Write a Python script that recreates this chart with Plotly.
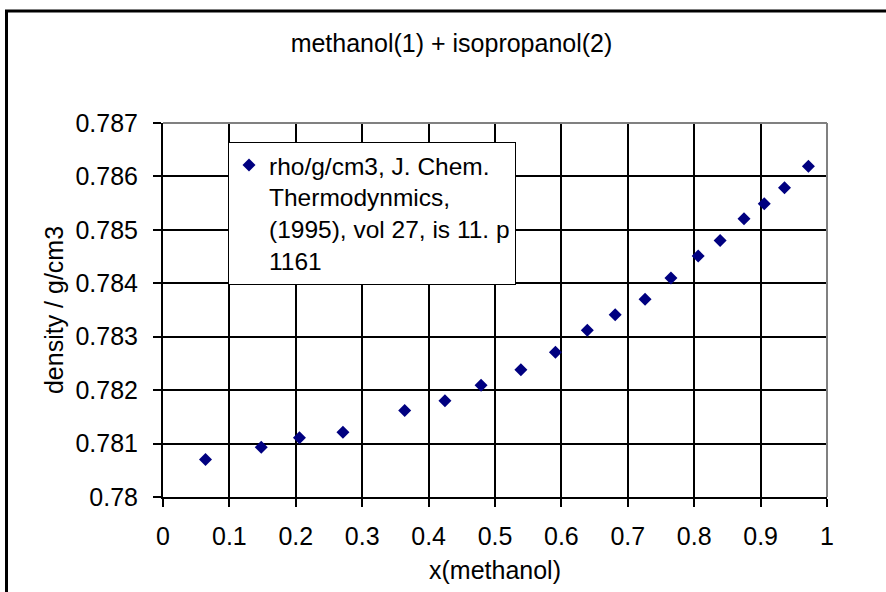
import plotly.graph_objects as go

x_methanol = [0.064, 0.148, 0.2055, 0.271, 0.364, 0.4246, 0.479, 0.539, 0.591, 0.639,
              0.681, 0.726, 0.765, 0.806, 0.839, 0.875, 0.9055, 0.936, 0.972]
density = [0.78070, 0.78093, 0.78111, 0.78121, 0.78162, 0.78180, 0.78209, 0.78238, 0.78271, 0.78312,
           0.78341, 0.78370, 0.78410, 0.78451, 0.78480, 0.78521, 0.78549, 0.78579, 0.78619]

series_name = "rho/g/cm3, J. Chem.<br>Thermodynmics,<br>(1995), vol 27, is 11. p<br>1161"
title_text = "methanol(1) + isopropanol(2)"
x_title = "x(methanol)"
y_title = "density / g/cm3"

FONT = "Liberation Sans, Arial, sans-serif"
FS = 25

fig = go.Figure()
fig.add_trace(go.Scatter(
    x=x_methanol, y=density, mode="markers", name=series_name,
    marker=dict(symbol="diamond", size=10, color="#000080", line=dict(width=0)),
    showlegend=True,
))

L, R, T, B = 163, 59, 123, 88
W, H = 886, 592
pw, ph = W - L - R, H - T - B

def px_x(px):
    return (px - L) / pw

def px_y(py):
    return (H - B - py) / ph

fig.update_layout(
    width=W, height=H,
    margin=dict(l=L, r=R, t=T, b=B, pad=0),
    paper_bgcolor="white", plot_bgcolor="white",
    font=dict(family=FONT, size=FS, color="black"),
    title=dict(text=title_text, x=451.5 / W, xanchor="center", xref="container",
               y=1 - 43 / H, yanchor="middle", yref="container",
               font=dict(family=FONT, size=FS, color="black")),
    showlegend=True,
    legend=dict(x=px_x(228), y=px_y(142), xanchor="left", yanchor="top",
                bgcolor="white", bordercolor="black", borderwidth=1,
                font=dict(family=FONT, size=24.5, color="black"),
                valign="top", tracegroupgap=0),
    xaxis=dict(range=[0, 1], dtick=0.1, tick0=0, showgrid=True, gridcolor="black", gridwidth=2,
               showline=True, linecolor="black", linewidth=2, zeroline=False,
               ticks="outside", ticklen=8, tickcolor="black", tickwidth=2,
               ticklabelstandoff=8,
               tickfont=dict(family=FONT, size=FS, color="black"),
               title=dict(text=x_title, standoff=12, font=dict(family=FONT, size=FS, color="black"))),
    yaxis=dict(range=[0.78, 0.787], dtick=0.001, tick0=0.78, showgrid=True, gridcolor="black", gridwidth=2,
               showline=True, linecolor="black", linewidth=2, zeroline=False,
               ticks="outside", ticklen=8, tickcolor="black", tickwidth=2,
               ticklabelstandoff=10,
               tickfont=dict(family=FONT, size=FS, color="black"),
               title=dict(text=y_title, standoff=5, font=dict(family=FONT, size=FS, color="black"))),
)

# plot-area top and right border (gray)
fig.add_shape(type="line", xref="paper", yref="paper", x0=0, x1=1, y0=1, y1=1,
              line=dict(color="#808080", width=2), layer="above")
fig.add_shape(type="line", xref="paper", yref="paper", x0=1, x1=1, y0=0, y1=1,
              line=dict(color="#808080", width=2), layer="above")
# chart-area outer border (extends past the window at right and bottom)
fig.add_shape(type="rect", xref="paper", yref="paper",
              x0=px_x(6.5), x1=px_x(W + 40), y0=px_y(H + 40), y1=px_y(9),
              line=dict(color="black", width=3), layer="below")

fig.write_html("out.html",
               config={"displayModeBar": False},
               post_script="document.body.style.margin='0';document.body.style.overflow='hidden';")
